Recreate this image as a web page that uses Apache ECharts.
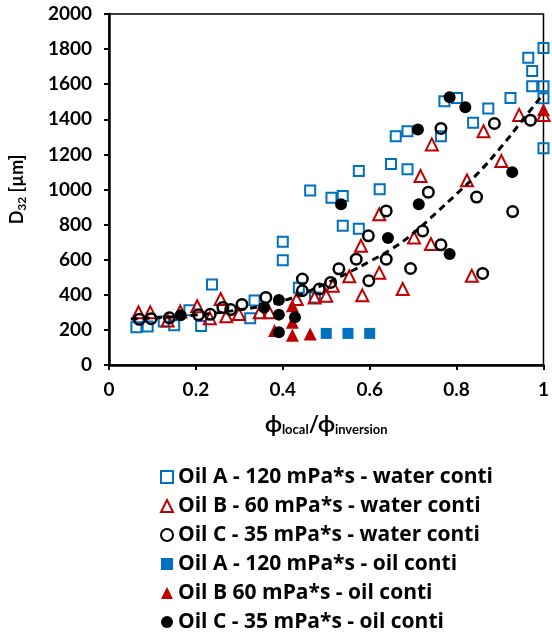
<!DOCTYPE html>
<html>
<head>
<meta charset="utf-8">
<script src="https://cdn.jsdelivr.net/npm/echarts@6/dist/echarts.min.js"></script>
<style>
html,body{margin:0;padding:0;background:#fff;}
#chart{width:552px;height:635px;}
</style>
</head>
<body>
<div id="chart"></div>
<script>
// ---- data ----
const xTicks = [0, 0.2, 0.4, 0.6, 0.8, 1];
const yTicks = [0, 200, 400, 600, 800, 1000, 1200, 1400, 1600, 1800, 2000];

const seriesNames = [
  'Oil A - 120 mPa*s - water conti',
  'Oil B - 60 mPa*s - water conti',
  'Oil C - 35 mPa*s - water conti',
  'Oil A - 120 mPa*s - oil conti',
  'Oil B 60 mPa*s - oil conti',
  'Oil C - 35 mPa*s - oil conti'
];

const oilAWater = [
  [0.063,215],[0.089,219],[0.126,248],[0.150,226],[0.185,312],[0.212,222],[0.237,459],
  [0.325,266],[0.335,367],[0.400,702],[0.400,597],[0.437,440],[0.474,385],[0.463,995],
  [0.512,953],[0.538,963],[0.538,793],[0.575,777],[0.575,1105],[0.623,1001],[0.649,1145],
  [0.687,1115],[0.660,1304],[0.687,1332],[0.764,1304],[0.772,1503],[0.801,1522],[0.838,1380],
  [0.873,1461],[0.924,1522],[0.965,1751],[0.974,1675],[0.974,1588],[1.0,1806],[1.0,1588],
  [1.0,1520],[1.0,1235]
];

const oilBWater = [
  [0.068,300],[0.095,300],[0.135,253],[0.164,305],[0.203,335],[0.232,267],[0.257,376],
  [0.270,278],[0.299,290],[0.347,300],[0.369,300],[0.432,376],[0.473,385],[0.500,395],
  [0.515,452],[0.553,505],[0.580,679],[0.583,397],[0.622,525],[0.622,859],[0.676,433],
  [0.702,726],[0.717,1077],[0.741,689],[0.743,1257],[0.824,1052],[0.835,508],[0.862,1332],
  [0.903,1162],[0.944,1425],[1.0,1425]
];

const oilCWater = [
  [0.070,260],[0.097,264],[0.139,269],[0.206,286],[0.233,289],[0.262,328],[0.280,316],
  [0.306,345],[0.361,385],[0.445,490],[0.445,423],[0.484,433],[0.510,470],[0.529,548],
  [0.569,603],[0.597,736],[0.598,480],[0.638,878],[0.638,603],[0.694,550],[0.722,764],
  [0.735,985],[0.764,1348],[0.764,685],[0.846,957],[0.860,522],[0.887,1376],[0.929,874],
  [0.970,1395]
];

const oilAOil = [[0.50,180],[0.55,180],[0.60,180]];

const oilBOil = [[0.381,196],[0.422,170],[0.463,177],[0.422,243],[0.422,338],[1.0,1455]];

const oilCOil = [
  [0.165,283],[0.357,328],[0.391,370],[0.391,287],[0.391,186],[0.428,272],[0.534,916],
  [0.642,723],[0.711,1342],[0.713,916],[0.784,1526],[0.820,1469],[0.784,632],[0.928,1099]
];

const trendX = [0.05,0.10,0.15,0.20,0.25,0.30,0.35,0.40,0.45,0.50,0.55,0.60,0.65,0.70,0.75,0.80,0.85,0.90,0.95,1.00];
const trendY = [262,268,275,285,298,315,335,365,410,465,525,590,660,750,860,975,1095,1235,1390,1545];

// ---- chart ----
const FONT = 'Lato';
const LEGEND_FONT = 'Open Sans';
const BLUE = '#0070C0', RED = '#C00000', BLACK = '#000000';

const chart = echarts.init(document.getElementById('chart'), null, {renderer: 'canvas'});

function openSeries(name, data, symbol, size, color, bw) {
  return {
    name, type: 'scatter', data, symbol, symbolSize: size,
    itemStyle: {color: 'rgba(255,255,255,0)', borderColor: color, borderWidth: bw, opacity: 1},
    emphasis: {disabled: true}
  };
}
function filledSeries(name, data, symbol, size, color) {
  return {
    name, type: 'scatter', data, symbol, symbolSize: size,
    itemStyle: {color: color, borderWidth: 0, opacity: 1},
    emphasis: {disabled: true}
  };
}

const option = {
  animation: false,
  backgroundColor: '#ffffff',
  textStyle: {fontFamily: FONT},
  grid: {
    left: 98, right: 7, top: 14, bottom: 270,
    show: true, borderColor: BLACK, borderWidth: 1.5, backgroundColor: 'transparent'
  },
  legend: {
    type: 'plain',
    data: seriesNames,
    orient: 'vertical',
    left: 155, top: 461, height: 200,
    itemWidth: 12, itemHeight: 12,
    itemGap: 7,
    selectedMode: false,
    textStyle: {fontFamily: LEGEND_FONT, fontWeight: 'bold', fontSize: 21, color: BLACK, lineHeight: 22}
  },
  xAxis: {
    type: 'value', min: 0, max: 1, interval: 0.2,
    name: '{p|ϕ}{s|local}{p|/ϕ}{s|inversion}',
    nameLocation: 'middle', nameGap: 47,
    nameTextStyle: {
      rich: {
        p: {fontFamily: FONT, fontWeight: 'bold', fontSize: 22, color: BLACK, lineHeight: 26, verticalAlign: 'middle'},
        s: {fontFamily: FONT, fontWeight: 'bold', fontSize: 13, color: BLACK, lineHeight: 26, verticalAlign: 'bottom', padding: [0,0,2,0]}
      }
    },
    axisLine: {show: true, onZero: false, lineStyle: {color: BLACK, width: 2.5}},
    axisTick: {show: true, length: 5, lineStyle: {color: BLACK, width: 2}},
    splitLine: {show: false},
    axisLabel: {
      margin: 15, color: BLACK, fontFamily: FONT, fontWeight: 'bold', fontSize: 19,
      formatter: v => String(xTicks.find(t => Math.abs(t - v) < 1e-9) ?? v)
    }
  },
  yAxis: {
    type: 'value', min: 0, max: 2000, interval: 200,
    name: '{d|D}{sub|32}{d| [µm]}',
    nameLocation: 'middle', nameGap: 80, nameRotate: 90,
    nameTextStyle: {
      rich: {
        d: {fontFamily: FONT, fontWeight: 'bold', fontSize: 18, color: BLACK, lineHeight: 24, verticalAlign: 'middle'},
        sub: {fontFamily: FONT, fontWeight: 'bold', fontSize: 12, color: BLACK, lineHeight: 24, verticalAlign: 'bottom', padding: [0,0,1,0]}
      }
    },
    axisLine: {show: true, onZero: false, lineStyle: {color: BLACK, width: 2.5}},
    axisTick: {show: true, length: 5, lineStyle: {color: BLACK, width: 2}},
    splitLine: {show: false},
    axisLabel: {
      margin: 17, color: BLACK, fontFamily: FONT, fontWeight: 'bold', fontSize: 19,
      formatter: v => String(yTicks.find(t => t === v) ?? v)
    }
  },
  series: [
    openSeries(seriesNames[0], oilAWater, 'rect', 10, BLUE, 2),
    openSeries(seriesNames[1], oilBWater, 'triangle', 12, RED, 2),
    openSeries(seriesNames[2], oilCWater, 'circle', 10.5, BLACK, 2.5),
    filledSeries(seriesNames[3], oilAOil, 'rect', 11, BLUE),
    filledSeries(seriesNames[4], oilBOil, 'triangle', 13, RED),
    filledSeries(seriesNames[5], oilCOil, 'circle', 12, BLACK),
    {
      name: 'trend', type: 'line',
      data: trendX.map((x, i) => [x, trendY[i]]),
      smooth: true, showSymbol: false, symbol: 'none',
      lineStyle: {color: BLACK, width: 3, type: [7, 5]},
      emphasis: {disabled: true}, z: 3
    }
  ]
};

chart.setOption(option);
</script>
</body>
</html>
